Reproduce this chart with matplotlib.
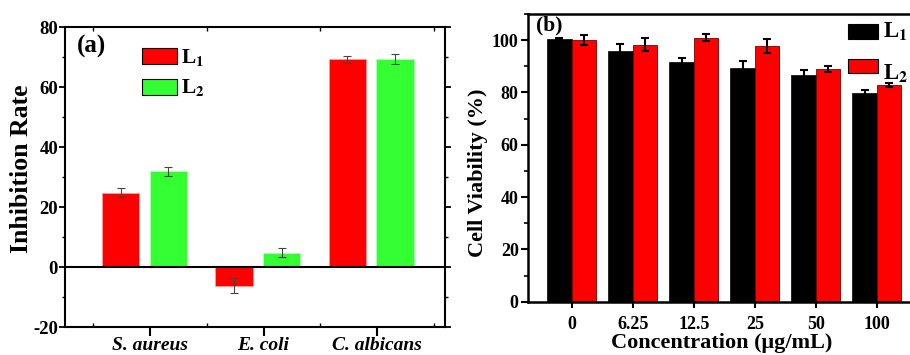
import numpy as np
import matplotlib
matplotlib.use("Agg")
from matplotlib import pyplot as plt
from matplotlib.patches import Rectangle
from matplotlib.ticker import MultipleLocator

plt.rcParams['font.family'] = 'Liberation Serif'
plt.rcParams['font.weight'] = 'bold'
plt.rcParams['mathtext.fontset'] = 'stix'
plt.rcParams['axes.unicode_minus'] = False

# panel (a) data
microbes = ['S. aureus', 'E. coli', 'C. albicans']
inhib_l1 = [24.8, -6.3, 69.2]
inhib_l1_err = [1.5, 2.5, 1.2]
inhib_l2 = [32.0, 4.8, 69.4]
inhib_l2_err = [1.5, 1.5, 1.7]

# panel (b) data
conc_labels = ['0', '6.25', '12.5', '25', '50', '100']
via_l1 = [100.4, 95.8, 91.6, 89.3, 86.6, 79.9]
via_l1_err = [0.5, 2.8, 1.7, 2.6, 1.9, 1.2]
via_l2 = [100.0, 98.3, 100.9, 97.8, 89.0, 83.0]
via_l2_err = [1.9, 2.6, 1.3, 2.8, 1.2, 0.8]

series_names = ['L$_\\mathbf{1}$', 'L$_\\mathbf{2}$']


def manual_legend(ax, colors, edge, boxes, text_pos, fontsize):
    # boxes: (x, y, w, h) in axes fraction, text_pos: (x, baseline y)
    for c, (bx, by, bw, bh), (tx, ty), name in zip(colors, boxes, text_pos, series_names):
        ax.add_patch(Rectangle((bx, by), bw, bh, transform=ax.transAxes, facecolor=c,
                               edgecolor=edge, linewidth=0.8, clip_on=False, zorder=5))
        ax.text(tx, ty, name, transform=ax.transAxes, fontsize=fontsize, fontweight='bold',
                va='baseline', ha='left', zorder=5)


fig = plt.figure(figsize=(9.1, 3.55), dpi=100)

# ---------- (a) ----------
ax1 = fig.add_axes([65 / 910, 28 / 355, 380 / 910, 300 / 355])
x = np.arange(len(microbes))
ekw_a = dict(ecolor='#444444', elinewidth=0.8, capsize=3, capthick=0.8)
ax1.bar(x - 0.26, inhib_l1, width=0.33, color='#ff0000', edgecolor='#ff9a9a', linewidth=0.6,
        yerr=inhib_l1_err, error_kw=ekw_a)
ax1.bar(x + 0.16, inhib_l2, width=0.33, color='#33ff33', edgecolor='#b0ffb0', linewidth=0.6,
        yerr=inhib_l2_err, error_kw=ekw_a)
ax1.axhline(0, color='black', linewidth=1.5)
ax1.set_xlim(-0.75, 2.6)
ax1.set_ylim(-20, 80)
ax1.set_xticks(x)
ax1.set_xticklabels(microbes, fontsize=14, fontweight='bold', style='italic')
ax1.yaxis.set_major_locator(MultipleLocator(20))
ax1.yaxis.set_minor_locator(MultipleLocator(10))
ax1.xaxis.set_minor_locator(MultipleLocator(0.5))
ax1.tick_params(axis='y', which='major', direction='out', length=4, width=1.3, labelsize=13.5, pad=1)
ax1.tick_params(axis='y', which='minor', direction='out', length=2.5, width=1)
ax1.tick_params(axis='x', which='major', direction='out', length=6.5, width=1.5, pad=1)
ax1.tick_params(axis='x', which='minor', direction='in', length=3, width=1, top=True)
ax1.tick_params(axis='y', which='both', right=True)
ax1.set_ylabel('Inhibition Rate', fontsize=18.5, fontweight='bold')
ax1.yaxis.set_label_coords(-0.084, 0.527)
for sp in ax1.spines.values():
    sp.set_linewidth(1.5)
ax1.text(0.032, 0.975, '(a)', transform=ax1.transAxes, fontsize=18, fontweight='bold',
         va='top', ha='left')
manual_legend(ax1, ['#ff0000', '#33ff33'], 'black',
              [(0.2026, 0.877, 0.092, 0.053), (0.2026, 0.773, 0.092, 0.053)],
              [(0.305, 0.88), (0.305, 0.78)], 15.5)

# ---------- (b) ----------
ax2 = fig.add_axes([527.7 / 910, 53.3 / 355, 387 / 910, 287.7 / 355])
xc = np.arange(len(conc_labels))
ekw_b = dict(ecolor='black', elinewidth=1.5, capsize=3, capthick=1.5)
ax2.bar(xc - 0.2, via_l1, width=0.4, color='black', edgecolor='black', linewidth=0.5,
        yerr=via_l1_err, error_kw=ekw_b)
ax2.bar(xc + 0.2, via_l2, width=0.4, color='#ff0000', edgecolor='#7a0000', linewidth=0.6,
        yerr=via_l2_err, error_kw=ekw_b)
ax2.set_xlim(-0.72, 5.62)
ax2.set_ylim(0, 110)
ax2.set_xticks(xc)
ax2.set_xticklabels(conc_labels, fontsize=13, fontweight='bold')
ax2.yaxis.set_major_locator(MultipleLocator(20))
ax2.yaxis.set_minor_locator(MultipleLocator(10))
ax2.tick_params(axis='y', which='major', direction='out', length=5, width=1.5, labelsize=13, pad=1.5)
ax2.tick_params(axis='y', which='minor', direction='out', length=3, width=1.2)
ax2.tick_params(axis='x', which='major', direction='out', length=4, width=1.5, pad=6)
ax2.set_ylabel('Cell Viability (%)', fontsize=16, fontweight='bold')
ax2.yaxis.set_label_coords(-0.1026, 0.449)
ax2.set_xlabel('Concentration (\u03bcg/mL)', fontsize=16, fontweight='bold', labelpad=0)
for sp in ax2.spines.values():
    sp.set_linewidth(1.8)
ax2.text(0.021, 0.995, '(b)', transform=ax2.transAxes, fontsize=15.5, fontweight='bold',
         va='top', ha='left')
manual_legend(ax2, ['black', '#ff0000'], 'black',
              [(0.8277, 0.913, 0.0775, 0.052), (0.8277, 0.794, 0.0775, 0.05)],
              [(0.918, 0.9166), (0.918, 0.7706)], 16.5)

fig.savefig('out.png', dpi=100)
